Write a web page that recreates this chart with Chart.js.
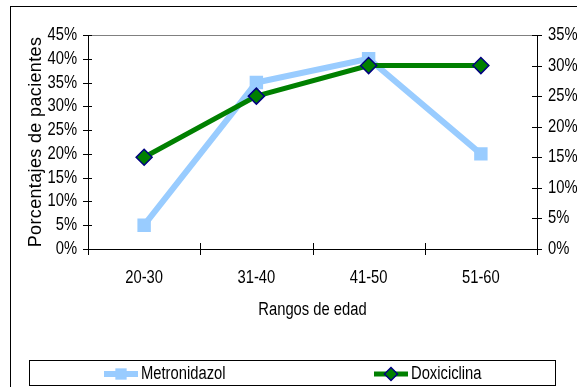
<!DOCTYPE html>
<html>
<head>
<meta charset="utf-8">
<script src="https://cdn.jsdelivr.net/npm/chart.js@4/dist/chart.umd.min.js"></script>
<style>
  html, body { margin: 0; padding: 0; background: #fff; }
  #wrap { width: 577px; height: 387px; }
</style>
</head>
<body>
<div id="wrap"><canvas id="c" width="577" height="387"></canvas></div>
<script>
// Age ranges and share of patients (%) for each treatment
const ageRanges = ['20-30', '31-40', '41-50', '51-60'];
const metronidazol = [5, 35, 40, 20];   // left axis
const doxiciclina = [15, 25, 30, 30];   // right axis
const leftAxisMax = 45;
const rightAxisMax = 35;
const tickStep = 5;

const FONT = "'Liberation Sans', Arial, sans-serif";
const TEXT_SCALE = 0.82;   // narrow lettering for horizontal text
const BLUE = '#99CCFF';
const GREEN = '#008000';
const NAVY = '#000080';

const pct = v => v + '%';

// Horizontal text is drawn condensed (a narrow face look); rotated text gets slight tracking
const condense = {
  id: 'condense',
  beforeInit(chart) {
    const ctx = chart.ctx;
    const fill = ctx.fillText.bind(ctx);
    ctx.fillText = function (text, x, y, maxWidth) {
      const m = ctx.getTransform();
      if (Math.abs(m.b) < 1e-6) {
        const w = ctx.measureText(text).width * TEXT_SCALE;
        maxWidth = (maxWidth === undefined || maxWidth === null) ? w : Math.min(maxWidth, w);
        fill(text, x, y, maxWidth);
      } else {
        const prev = ctx.letterSpacing;
        ctx.letterSpacing = '0.35px';
        fill(text, x, y);
        ctx.letterSpacing = prev;
      }
    };
  }
};

// Frame, crossing tick marks and the boxed legend
const decorations = {
  id: 'decorations',
  afterDraw(chart) {
    const ctx = chart.ctx;
    const {left, right, top, bottom} = chart.chartArea;
    ctx.save();

    // outer frame
    ctx.strokeStyle = '#000';
    ctx.lineWidth = 1;
    ctx.strokeRect(10.5, 6.5, 600, 420);

    // plot-area top edge
    ctx.strokeStyle = '#808080';
    ctx.beginPath();
    ctx.moveTo(left, top + 0.5);
    ctx.lineTo(right, top + 0.5);
    ctx.stroke();

    // tick marks crossing the axes
    ctx.strokeStyle = '#000';
    ctx.beginPath();
    const xs = chart.scales.x;
    const n = xs.ticks.length;
    for (let i = 0; i <= n; i++) {
      const px = Math.round(xs.left + (xs.right - xs.left) * i / n) + 0.5;
      ctx.moveTo(px, bottom - 6);
      ctx.lineTo(px, bottom + 6);
    }
    const yl = chart.scales.yLeft;
    yl.ticks.forEach(t => {
      const py = Math.round(yl.getPixelForValue(t.value)) + 0.5;
      ctx.moveTo(left - 5, py);
      ctx.lineTo(left + 4, py);
    });
    const yr = chart.scales.yRight;
    yr.ticks.forEach(t => {
      const py = Math.round(yr.getPixelForValue(t.value)) + 0.5;
      ctx.moveTo(right - 5, py);
      ctx.lineTo(right + 5, py);
    });
    ctx.stroke();

    // legend box
    ctx.strokeRect(29.5, 360.5, 526, 25);
    const legendY = 374;
    const symbolX = [121, 391];
    const legendRadius = [8, 6.5];
    chart.data.datasets.forEach((ds, i) => {
      const cx = symbolX[i];
      ctx.strokeStyle = ds.borderColor;
      ctx.lineWidth = ds.borderWidth;
      ctx.beginPath();
      ctx.moveTo(cx - 17, legendY);
      ctx.lineTo(cx + 17, legendY);
      ctx.stroke();
      ctx.fillStyle = ds.pointBackgroundColor;
      ctx.strokeStyle = ds.pointBorderColor;
      ctx.lineWidth = ds.pointBorderWidth;
      Chart.helpers.drawPoint(ctx, {
        pointStyle: ds.pointStyle,
        radius: legendRadius[i],
        borderWidth: ds.pointBorderWidth,
        rotation: 0
      }, cx, legendY);
      ctx.fillStyle = '#000';
      ctx.font = '18px ' + FONT;
      ctx.textBaseline = 'middle';
      ctx.textAlign = 'left';
      ctx.fillText(ds.label, cx + 20, legendY);
    });
    ctx.restore();
  }
};

const tickFont = { family: FONT, size: 18 };

new Chart(document.getElementById('c'), {
  type: 'line',
  data: {
    labels: ageRanges,
    datasets: [
      {
        label: 'Metronidazol',
        data: metronidazol,
        yAxisID: 'yLeft',
        order: 1,
        borderColor: BLUE,
        borderWidth: 6,
        pointStyle: 'rect',
        pointRadius: 9.5,
        pointBackgroundColor: BLUE,
        pointBorderColor: BLUE,
        pointBorderWidth: 0,
        tension: 0
      },
      {
        label: 'Doxiciclina',
        data: doxiciclina,
        yAxisID: 'yRight',
        order: 0,
        borderColor: GREEN,
        borderWidth: 5,
        pointStyle: 'rectRot',
        pointRadius: 8,
        pointBackgroundColor: GREEN,
        pointBorderColor: NAVY,
        pointBorderWidth: 1.5,
        tension: 0
      }
    ]
  },
  options: {
    responsive: false,
    animation: false,
    devicePixelRatio: 1,
    layout: { padding: { top: 35, left: 0, right: 0, bottom: 0 } },
    plugins: {
      legend: { display: false },
      tooltip: { enabled: false },
      title: { display: false }
    },
    scales: {
      x: {
        type: 'category',
        offset: true,
        grid: { display: false, drawTicks: false },
        border: { display: true, color: '#000', width: 1 },
        ticks: { color: '#000', font: tickFont, padding: 18, maxRotation: 0, autoSkip: false },
        title: {
          display: true,
          text: 'Rangos de edad',
          color: '#000',
          font: tickFont,
          padding: { top: 0, bottom: 66 }
        },
        afterFit(scale) { scale.height = 138; }
      },
      yLeft: {
        position: 'left',
        min: 0,
        max: leftAxisMax,
        grid: { display: false, drawTicks: false },
        border: { display: true, color: '#000', width: 1 },
        ticks: { stepSize: tickStep, callback: pct, color: '#000', font: tickFont, padding: 11, autoSkip: false },
        title: {
          display: true,
          text: 'Porcentajes de pacientes',
          color: '#000',
          font: tickFont,
          padding: { top: 25, bottom: 0 }
        },
        afterFit(scale) { scale.width = 88; }
      },
      yRight: {
        position: 'right',
        min: 0,
        max: rightAxisMax,
        grid: { display: false, drawTicks: false },
        border: { display: true, color: '#000', width: 1 },
        ticks: { stepSize: tickStep, callback: pct, color: '#000', font: tickFont, padding: 11, autoSkip: false },
        afterFit(scale) { scale.width = 40; }
      }
    }
  },
  plugins: [condense, decorations]
});
</script>
</body>
</html>
